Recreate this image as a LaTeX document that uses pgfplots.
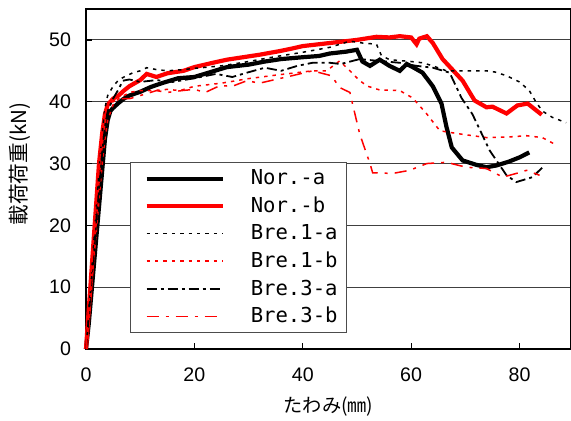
\documentclass[border=0pt]{standalone}
\usepackage{fontspec}
\setmainfont{Liberation Sans}
\newfontfamily\jp{Noto Sans CJK JP}
\newfontfamily\legfont{DejaVu Sans Mono}
\usepackage{pgfplots}
\pgfplotsset{compat=1.18}

\begin{document}
\begin{tikzpicture}
\begin{axis}[
    scale only axis,
    width=242.5pt, height=170pt,
    xmin=0, xmax=89.5, ymin=0, ymax=55,
    xtick={0,20,40,60,80}, ytick={0,10,20,30,40,50},
    xtick pos=bottom, ytick pos=left,
    tick align=inside, major tick length=3pt,
    tick style={black, line width=0.6pt},
    ymajorgrids, grid style={black!75, line width=0.5pt},
    axis line style={black, line width=1.2pt},
    /pgf/number format/assume math mode=true,
    ticklabel style={font=\fontsize{9.8}{11}\selectfont},
    xticklabel style={yshift=-6pt},
    yticklabel style={xshift=-4pt},
    xlabel={\jp\fontsize{9.6}{12}\selectfont たわみ(㎜)},
    ylabel={\jp\fontsize{10.3}{12}\selectfont 載荷荷重(kN)},
    xlabel style={at={(rel axis cs:0.5,0)}, anchor=center, yshift=-29pt},
    ylabel style={at={(rel axis cs:0,0.544)}, anchor=center, yshift=33pt},
    legend style={at={(rel axis cs:0.0907,0.55)}, anchor=north west,
        draw=black!70, line width=0.6pt, inner xsep=3pt, inner ysep=2pt,
        font=\legfont\fontsize{10.3}{12}\selectfont,
        nodes={inner sep=1.5pt}, row sep=1.6pt},
    legend cell align=left,
    legend image code/.code={\path (-4pt,0pt); \draw[#1] (0pt,0pt) -- (38pt,0pt);},
    /tikz/every odd column/.append style={column sep=11.5pt},
    clip=false,
]
\coordinate (O) at (rel axis cs:0,0);
\addplot[black, line width=2.1pt] coordinates {
(0,0) (0.5,4) (1,9) (1.5,14) (2,19) (2.5,24) (3,29) (3.5,34) (4,37) (4.5,38.5) (5,39) (6,39.8) (7,40.5) (8,41) (10,41.6) (12,42.4) (14,43) (17,43.8) (20,44) (23,44.8) (26,45.6) (30,46) (33,46.5) (36,46.9) (40,47.2) (43,47.4) (45,47.8) (48,48.1) (50,48.4) (51,46.5) (52.4,45.8) (54.2,46.8) (56,45.8) (57.9,45) (59.2,46.1) (60.5,45.5) (62.1,44.7) (64,42.5) (65.6,39.7) (66.5,36) (67.5,32.6) (69.5,30.5) (72,29.8) (73.9,29.4) (75.8,29.7) (78,30.3) (80,31) (81.8,31.8)
};
\addlegendentry{Nor.-a}
\addplot[red, line width=2.1pt] coordinates {
(0,0) (0.4,5) (0.8,10) (1.2,15) (1.6,20) (2,25) (2.4,30) (3,35) (3.5,38) (4,39.5) (5,40.5) (6,41) (7,41.8) (8,42.5) (10,43.5) (11.2,44.5) (13,44) (15,44.6) (18,45) (20,45.6) (23.4,46.3) (26,46.8) (29,47.2) (32,47.6) (35.8,48.2) (38,48.6) (40,49) (42,49.2) (45,49.5) (48,49.8) (50,50) (53.6,50.5) (56,50.4) (57.9,50.6) (60,50.4) (61,49.3) (61.5,50.2) (62.9,50.6) (64,49.5) (65.8,46.9) (67.5,45.3) (69.5,43.4) (71.7,40.2) (73.9,39.1) (75,39.2) (77.6,38.1) (79.6,39.4) (81.5,39.7) (84.1,37.9)
};
\addlegendentry{Nor.-b}
\addplot[black, line width=0.75pt, dash pattern=on 1.7pt off 2.5pt] coordinates {
(0,0) (0.5,6) (1,12) (1.5,18) (2,24) (2.5,30) (3,35) (3.5,39) (4,41) (5,42.5) (6,43.5) (7,44) (8.7,44.7) (10,45) (11.2,45.5) (13,45.2) (15,45) (18,45.2) (20,45.4) (25,45.8) (30,46.5) (35,47.3) (40,48) (45,48.8) (48.7,49.8) (51,49.5) (53.6,49.3) (54.5,47.5) (56,46.8) (60,46.5) (62.1,46.3) (64,45.8) (66.5,45) (70,45) (73.9,45) (75.5,44.8) (77.6,44.2) (80,43.2) (81.8,41.8) (83,40) (84.2,38.5) (86,37.5) (88.6,36.6)
};
\addlegendentry{Bre.1-a}
\addplot[red, line width=0.75pt, dash pattern=on 1.7pt off 2.5pt] coordinates {
(0,0) (0.5,5) (1,10) (1.5,15) (2,20) (2.5,25) (3,30) (3.5,34) (4,37) (5,39.5) (6,40.5) (8,41.5) (10,41.8) (12.4,41.8) (15,42) (17.3,41.8) (20,42.5) (25,43) (29.7,43.7) (35,44.3) (41.8,45) (44.4,45) (46.8,46.6) (48.7,45) (50.5,43.4) (52,42.5) (54.2,41.9) (57.9,41.8) (60.3,40.6) (62.9,38) (65.3,35.3) (68.9,34.8) (73.9,34.2) (78,34.3) (81.3,34.5) (84.2,34.2) (87,32.9)
};
\addlegendentry{Bre.1-b}
\addplot[black, line width=0.9pt, dash pattern=on 5pt off 2pt on 1.5pt off 2pt] coordinates {
(0,0) (0.5,5) (1,11) (1.5,16) (2,22) (2.5,27) (3,32) (3.5,36) (4,38.5) (5,40.5) (6,42) (6.8,43.4) (8,43.6) (10,43.2) (13,43.5) (16,43.2) (20,43.8) (24,44.5) (27,44) (29.7,44.7) (33,45.5) (36,45) (39,45.8) (41.8,46.3) (45,46.3) (47,46.1) (50.5,46.9) (54,46.6) (57.9,46.3) (61,45.8) (64,45.5) (67.1,44.7) (69.3,40.6) (71.3,38) (74.5,32.1) (77.6,28.1) (79.4,27) (82.4,27.8) (84.6,29.7)
};
\addlegendentry{Bre.3-a}
\addplot[red, line width=0.75pt, dash pattern=on 6pt off 3.5pt on 1.5pt off 3.5pt] coordinates {
(0,0) (0.4,5) (0.8,10) (1.2,15) (1.6,20) (2,25) (2.5,30) (3,35) (3.5,38) (4,39.5) (5,40) (6,40.5) (8.1,40.5) (10,41) (13,41.8) (15,41.5) (17.7,41.8) (20,42) (22,41.5) (24.7,42.6) (27,42.5) (29.7,43.4) (32,43) (35,43.6) (38,44.2) (41.8,45) (45.3,44.2) (46.8,42.3) (48.7,41.5) (49.2,39.6) (50.5,34.8) (52.4,30) (52.9,28.5) (56.6,28.4) (59.7,28.9) (62.9,30) (66.5,30.2) (70.2,29.4) (73.9,29.2) (76.9,27.8) (79.4,28.4) (81.3,28.9) (83.7,28.1)
};
\addlegendentry{Bre.3-b}
\end{axis}
\pgfresetboundingbox
\path (O) ++(-43pt,-36pt) rectangle ++(285.5pt,210.5pt);
\end{tikzpicture}
\end{document}
